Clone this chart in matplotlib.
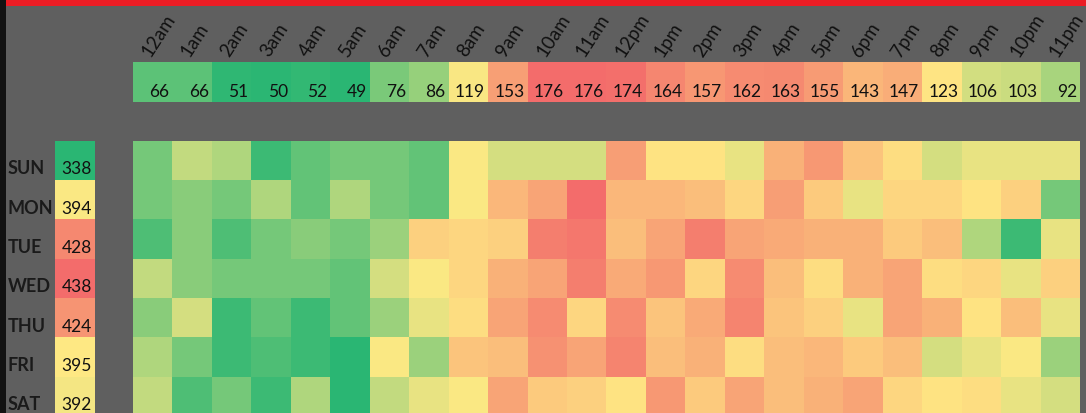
import numpy as np
import matplotlib
matplotlib.use("Agg")
import matplotlib.pyplot as plt
from matplotlib.colors import LinearSegmentedColormap, TwoSlopeNorm
from matplotlib.patches import Rectangle

plt.rcParams['font.family'] = ['Lato', 'DejaVu Sans']

hours = ["12am", "1am", "2am", "3am", "4am", "5am", "6am", "7am", "8am", "9am", "10am", "11am",
         "12pm", "1pm", "2pm", "3pm", "4pm", "5pm", "6pm", "7pm", "8pm", "9pm", "10pm", "11pm"]
days = ["SUN", "MON", "TUE", "WED", "THU", "FRI", "SAT"]

hour_totals = [66, 66, 51, 50, 52, 49, 76, 86, 119, 153, 176, 176,
               174, 164, 157, 162, 163, 155, 143, 147, 123, 106, 103, 92]
day_totals = [338, 394, 428, 438, 424, 395, 392]

# counts per day / hour
sun = [8, 12, 11, 5, 7, 8, 8, 7, 15, 13, 13, 13, 27, 16, 16, 14, 24, 28, 21, 17, 13, 14, 14, 14]
mon = [8, 9, 8, 11, 7, 11, 8, 7, 15, 23, 26, 35, 23, 23, 22, 18, 27, 20, 14, 18, 18, 16, 19, 8]
tue = [6, 9, 6, 8, 9, 8, 10, 19, 18, 19, 32, 33, 22, 26, 32, 26, 25, 24, 24, 20, 22, 11, 5, 14]
wed = [12, 9, 8, 8, 8, 7, 13, 15, 18, 24, 26, 32, 25, 28, 18, 30, 22, 17, 24, 26, 17, 18, 14, 19]
thu = [9, 13, 5, 7, 5, 7, 10, 14, 17, 26, 30, 18, 30, 21, 25, 31, 21, 19, 14, 26, 24, 16, 22, 14]
fri = [11, 8, 5, 6, 5, 4, 15, 10, 21, 22, 29, 26, 31, 22, 24, 17, 22, 23, 20, 22, 13, 14, 15, 10]
sat = [12, 6, 8, 5, 11, 4, 12, 14, 15, 26, 20, 19, 16, 28, 20, 26, 22, 24, 26, 18, 16, 17, 14, 13]
grid = np.array([sun, mon, tue, wed, thu, fri, sat])

cmap = LinearSegmentedColormap.from_list("gyr", ["#2AB673", "#FFE984", "#F36C6B"])

W, H = 1086, 413
fig = plt.figure(figsize=(W / 100, H / 100), dpi=100)
fig.patch.set_facecolor("#5f5f5f")


def px_axes(x0, y0, x1, y1):
    ax = fig.add_axes([x0 / W, 1 - y1 / H, (x1 - x0) / W, (y1 - y0) / H])
    ax.set_axis_off()
    return ax


txt = "#111111"

# hour totals row
ax_h = px_axes(133, 62, 1080, 102)
ht = np.array(hour_totals)
ax_h.imshow(ht[None, :], cmap=cmap, aspect="auto",
            norm=TwoSlopeNorm(vmin=ht.min(), vcenter=np.median(ht), vmax=ht.max()))
for i, v in enumerate(hour_totals):
    ax_h.text(i + 0.42, 0.37, str(v), ha="right", va="baseline", fontsize=12.5, color=txt)
for i, lab in enumerate(hours):
    ax_h.text(i - 0.06, -0.6, lab, rotation=57, rotation_mode="anchor",
              ha="left", va="baseline", fontsize=13.5, color=txt, clip_on=False)

# day totals column
ax_d = px_axes(55, 141, 95, 416)
dt = np.array(day_totals)
ax_d.imshow(dt[:, None], cmap=cmap, aspect="auto",
            norm=TwoSlopeNorm(vmin=dt.min(), vcenter=np.median(dt), vmax=dt.max()))
for r, v in enumerate(day_totals):
    ax_d.text(0.42, r + 0.35, str(v), ha="right", va="baseline", fontsize=12.5, color=txt)
    ax_d.text(-1.68, r + 0.35, days[r], ha="left", va="baseline", fontsize=13,
              fontweight="bold", color="#1a1a1a", clip_on=False)

# main heatmap
ax_g = px_axes(133, 141, 1080, 416)
ax_g.imshow(grid, cmap=cmap, aspect="auto",
            norm=TwoSlopeNorm(vmin=grid.min(), vcenter=15.2, vmax=grid.max()))

# frame decorations
fig.add_artist(Rectangle((6 / W, 1 - 6 / H), 1, 6 / H, transform=fig.transFigure,
                         color="#EC1C24", lw=0))
fig.add_artist(Rectangle((0, 0), 6 / W, 1, transform=fig.transFigure,
                         color="#121212", lw=0))

fig.savefig("out.png", dpi=100, facecolor=fig.get_facecolor())
